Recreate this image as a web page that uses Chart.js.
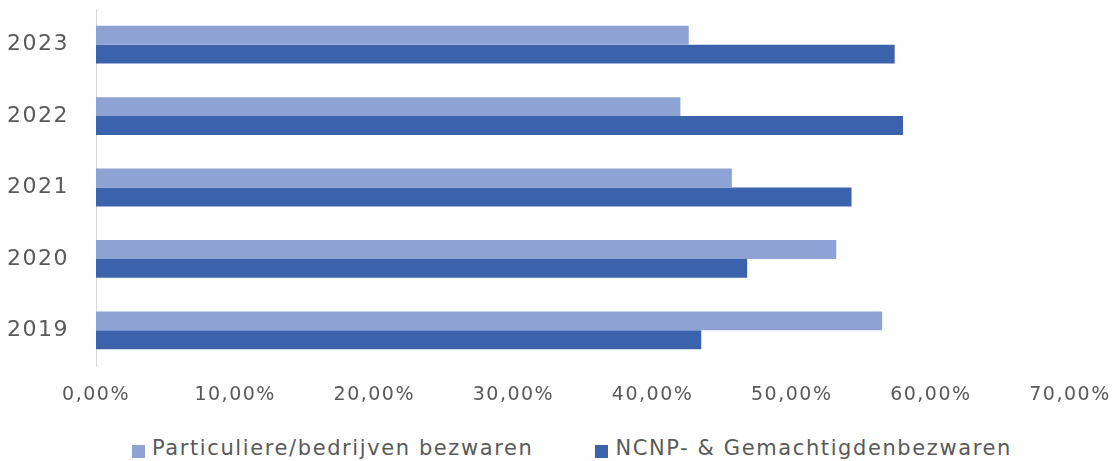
<!DOCTYPE html>
<html>
<head>
<meta charset="utf-8">
<script src="https://cdn.jsdelivr.net/npm/chart.js@4"></script>
<style>
  html, body { margin: 0; padding: 0; background: #fff; overflow: hidden; }
  #pagina { width: 1117px; height: 461px; position: relative; overflow: hidden; }
  #wrap { width: 1117px; height: 431px; position: absolute; left: 0; top: 0; }
  #legenda {
    position: absolute; left: 132px; top: 436px;
    display: flex; align-items: flex-start;
    font-family: 'DejaVu Sans'; font-size: 21px; line-height: 25px;
    letter-spacing: 1.6px; color: #595959; white-space: nowrap;
  }
  #legenda .item { display: flex; align-items: flex-start; margin-right: 62px; }
  #legenda .blokje { width: 13px; height: 13px; margin-top: 9px; margin-right: 7px; }
</style>
</head>
<body>
<div id="pagina">
  <div id="wrap"><canvas id="grafiek"></canvas></div>
  <div id="legenda"></div>
</div>
<script>
// jaren (boven naar beneden) en aandelen in procenten
const jaren = ['2023', '2022', '2021', '2020', '2019'];
const particulierBedrijven = [42.6, 42.0, 45.7, 53.2, 56.5];
const ncnpGemachtigden = [57.4, 58.0, 54.3, 46.8, 43.5];
const xTicks = [0, 10, 20, 30, 40, 50, 60, 70];

const tekstKleur = '#595959';
const lettertype = "'DejaVu Sans', sans-serif";
const fmtPct = v => v.toFixed(2).replace('.', ',') + '%';

// iets ruimere letterafstand op het canvas (canvas reset die bij resize)
const letterAfstand = {
    id: 'letterAfstand',
    beforeLayout(chart) { chart.ctx.letterSpacing = '1.5px'; },
    beforeDraw(chart) { chart.ctx.letterSpacing = '1.5px'; }
};

const ctx = document.getElementById('grafiek').getContext('2d');

const grafiek = new Chart(ctx, {
    type: 'bar',
    data: {
        labels: jaren,
        datasets: [
            {
                label: 'Particuliere/bedrijven bezwaren',
                data: particulierBedrijven,
                backgroundColor: '#8fa2d4',
                categoryPercentage: 0.53,
                barPercentage: 1
            },
            {
                label: 'NCNP- & Gemachtigdenbezwaren',
                data: ncnpGemachtigden,
                backgroundColor: '#3b63ab',
                categoryPercentage: 0.53,
                barPercentage: 1
            }
        ]
    },
    options: {
        indexAxis: 'y',
        responsive: true,
        maintainAspectRatio: false,
        animation: false,
        layout: { padding: { left: 8, right: 47, top: 9, bottom: 0 } },
        scales: {
            x: {
                min: 0,
                max: 70,
                afterBuildTicks: axis => { axis.ticks = xTicks.map(v => ({ value: v })); },
                afterFit: s => { s.height = 65; s.paddingLeft = 0; s.paddingRight = 0; },
                grid: { display: false, drawTicks: false },
                border: { display: false },
                ticks: {
                    color: tekstKleur,
                    padding: 18,
                    maxRotation: 0,
                    font: { family: lettertype, size: 19 },
                    callback: v => fmtPct(v)
                }
            },
            y: {
                afterFit: s => { s.width = 88; s.paddingTop = 0; s.paddingBottom = 0; },
                grid: { display: false, drawTicks: false },
                border: { display: true, color: '#d9d9d9', width: 1 },
                ticks: {
                    color: tekstKleur,
                    padding: 27,
                    font: { family: lettertype, size: 22 }
                }
            }
        },
        plugins: {
            legend: { display: false },
            tooltip: { enabled: false }
        }
    },
    plugins: [letterAfstand]
});

// legenda als gewone tekst onder de grafiek
const legenda = document.getElementById('legenda');
grafiek.data.datasets.forEach(ds => {
    const item = document.createElement('div');
    item.className = 'item';
    const blokje = document.createElement('span');
    blokje.className = 'blokje';
    blokje.style.background = ds.backgroundColor;
    const tekst = document.createElement('span');
    tekst.textContent = ds.label;
    item.appendChild(blokje);
    item.appendChild(tekst);
    legenda.appendChild(item);
});
</script>
</body>
</html>
